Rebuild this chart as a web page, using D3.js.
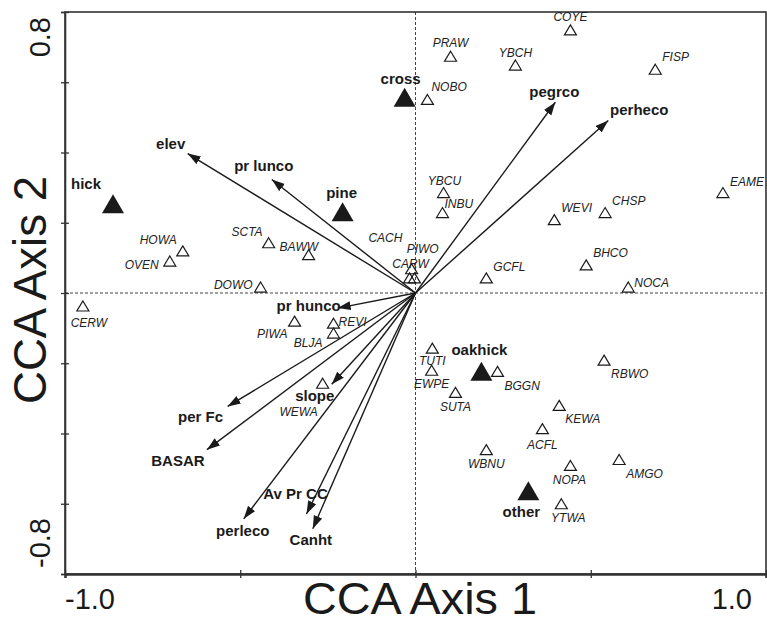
<!DOCTYPE html>
<html>
<head>
<meta charset="utf-8">
<script src="https://cdn.jsdelivr.net/npm/d3@7"></script>
<style>
body { margin: 0; background: #fff; }
svg { display: block; }
</style>
</head>
<body>
<svg id="chart" width="767" height="625"></svg>
<script>

var xTicks = [-1, -0.5, 0, 0.5, 1];
var yTicks = [-0.8, -0.6, -0.4, -0.2, 0, 0.2, 0.4, 0.6, 0.8];

// species scores (open triangles)
var species = [
	{name: "COYE", x: 0.442, y: 0.749},
	{name: "PRAW", x: 0.100, y: 0.674},
	{name: "YBCH", x: 0.285, y: 0.649},
	{name: "FISP", x: 0.684, y: 0.637},
	{name: "NOBO", x: 0.034, y: 0.551},
	{name: "YBCU", x: 0.080, y: 0.286},
	{name: "INBU", x: 0.077, y: 0.229},
	{name: "WEVI", x: 0.396, y: 0.209},
	{name: "CHSP", x: 0.541, y: 0.229},
	{name: "EAME", x: 0.877, y: 0.286},
	{name: "GCFL", x: 0.202, y: 0.043},
	{name: "BHCO", x: 0.487, y: 0.080},
	{name: "NOCA", x: 0.607, y: 0.017},
	{name: "PIWO", x: -0.011, y: 0.069},
	{name: "CARW", x: -0.017, y: 0.043},
	{name: "CACH", x: -0.003, y: 0.043},
	{name: "SCTA", x: -0.419, y: 0.143},
	{name: "BAWW", x: -0.305, y: 0.109},
	{name: "HOWA", x: -0.664, y: 0.120},
	{name: "OVEN", x: -0.701, y: 0.091},
	{name: "DOWO", x: -0.442, y: 0.017},
	{name: "CERW", x: -0.949, y: -0.037},
	{name: "PIWA", x: -0.345, y: -0.080},
	{name: "REVI", x: -0.234, y: -0.086},
	{name: "BLJA", x: -0.234, y: -0.114},
	{name: "WEWA", x: -0.265, y: -0.257},
	{name: "TUTI", x: 0.048, y: -0.157},
	{name: "EWPE", x: 0.046, y: -0.220},
	{name: "BGGN", x: 0.234, y: -0.223},
	{name: "SUTA", x: 0.114, y: -0.283},
	{name: "RBWO", x: 0.538, y: -0.191},
	{name: "KEWA", x: 0.410, y: -0.320},
	{name: "ACFL", x: 0.362, y: -0.386},
	{name: "WBNU", x: 0.202, y: -0.446},
	{name: "NOPA", x: 0.442, y: -0.491},
	{name: "AMGO", x: 0.581, y: -0.474},
	{name: "YTWA", x: 0.416, y: -0.600}
];

// forest type centroids (filled triangles)
var groups = [
	{name: "hick", x: -0.863, y: 0.254},
	{name: "pine", x: -0.208, y: 0.231},
	{name: "cross", x: -0.031, y: 0.557},
	{name: "oakhick", x: 0.188, y: -0.223},
	{name: "other", x: 0.322, y: -0.563}
];

// environmental variables (biplot arrows)
var envVars = [
	{name: "elev", x: -0.650, y: 0.397},
	{name: "pr lunco", x: -0.410, y: 0.323},
	{name: "pegrco", x: 0.399, y: 0.543},
	{name: "perheco", x: 0.550, y: 0.491},
	{name: "pr hunco", x: -0.222, y: -0.043},
	{name: "slope", x: -0.239, y: -0.260},
	{name: "per Fc", x: -0.536, y: -0.323},
	{name: "BASAR", x: -0.595, y: -0.446},
	{name: "perleco", x: -0.490, y: -0.643},
	{name: "Av Pr CC", x: -0.311, y: -0.629},
	{name: "Canht", x: -0.293, y: -0.671}
];

// label placement: [anchor, dx, dy] in px from the mark to the text centre
var speciesLabel = {
	COYE: ["m", 0, -13], PRAW: ["m", 0, -13], YBCH: ["m", 0, -12], FISP: ["s", 7, -12],
	NOBO: ["s", 4, -12], YBCU: ["m", 1, -12], INBU: ["s", 2, -9], WEVI: ["s", 7, -12],
	CHSP: ["s", 7, -12], EAME: ["s", 7, -11], GCFL: ["s", 7, -11], BHCO: ["s", 7, -12],
	NOCA: ["s", 6, -4], PIWO: ["s", -5, -20], CARW: ["m", 1, -14], CACH: ["e", -12, -40],
	SCTA: ["e", -6, -11], BAWW: ["s", -29, -8], HOWA: ["e", -6, -11], OVEN: ["e", -11, 4],
	DOWO: ["e", -8, -2], CERW: ["m", 6, 17], PIWA: ["e", -7, 13], REVI: ["s", 5, -1],
	BLJA: ["e", -11, 10], WEWA: ["m", -24, 29], TUTI: ["m", 0, 13], EWPE: ["m", 0, 14],
	BGGN: ["s", 7, 15], SUTA: ["m", 0, 15], RBWO: ["s", 7, 14], KEWA: ["s", 6, 14],
	ACFL: ["m", 0, 16], WBNU: ["m", 0, 14], NOPA: ["m", -1, 15], AMGO: ["s", 7, 15],
	YTWA: ["m", 7, 14]
};
var groupLabel = {
	hick: [-27, -20], pine: [-1, -19], cross: [-4, -18], oakhick: [-2, -21], other: [-7, 21]
};
var envLabel = {
	"elev": [-17, -10], "pr lunco": [-8, -14], "pegrco": [-1, -10], "perheco": [31, -11],
	"pr hunco": [-29, -2], "slope": [-17, 12], "per Fc": [-27, 11], "BASAR": [-29, 11],
	"perleco": [-1, 12], "Av Pr CC": [-11, -20], "Canht": [-2, 11]
};

var anchors = {s: "start", m: "middle", e: "end"};
var font = "'Liberation Sans', Arial, Helvetica, sans-serif";
var ink = "#1a1a1a";

var svg = d3.select("#chart");

var x = d3.scaleLinear().domain([-1, 1]).range([65, 766]);
var y = d3.scaleLinear().domain([-0.8, 0.8]).range([574, 12]);

// zero lines
svg.append("line")
	.attr("x1", x(0)).attr("x2", x(0))
	.attr("y1", y(0.8)).attr("y2", y(-0.8))
	.attr("stroke", "#444").attr("stroke-width", 1).attr("stroke-dasharray", "3,2");
svg.append("line")
	.attr("x1", x(-1)).attr("x2", x(1))
	.attr("y1", y(0)).attr("y2", y(0))
	.attr("stroke", "#444").attr("stroke-width", 1).attr("stroke-dasharray", "3,2");

// frame
svg.append("rect")
	.attr("x", x(-1)).attr("y", y(0.8))
	.attr("width", x(1) - x(-1)).attr("height", y(-0.8) - y(0.8))
	.attr("fill", "none").attr("stroke", "#333").attr("stroke-width", 1.6);

// axes (ticks only, crossing the frame)
var gx = svg.append("g")
	.attr("transform", "translate(0," + y(-0.8) + ")")
	.call(d3.axisBottom(x).tickValues(xTicks).tickSize(4).tickFormat(""));
var gy = svg.append("g")
	.attr("transform", "translate(" + x(-1) + ",0)")
	.call(d3.axisLeft(y).tickValues(yTicks).tickSize(4).tickFormat(""));
gx.select(".domain").attr("stroke", "#333").attr("stroke-width", 2.5);
gy.select(".domain").attr("stroke", "#333").attr("stroke-width", 1.6);
gx.selectAll(".tick line").attr("y1", -4).attr("y2", 4).attr("stroke", "#333").attr("stroke-width", 1.3);
gy.selectAll(".tick line").attr("x1", -4).attr("x2", 4).attr("stroke", "#333").attr("stroke-width", 1.3);

// end tick labels
svg.append("text").attr("x", x(-1)).attr("y", 609)
	.attr("font-family", font).attr("font-size", 29).attr("fill", ink)
	.text("-1.0");
svg.append("text").attr("x", 752).attr("y", 609).attr("text-anchor", "end")
	.attr("font-family", font).attr("font-size", 29).attr("fill", ink)
	.text("1.0");
svg.append("text").attr("transform", "translate(50,17) rotate(-90)")
	.attr("text-anchor", "end")
	.attr("font-family", font).attr("font-size", 29).attr("fill", ink)
	.text("0.8");
svg.append("text").attr("transform", "translate(50,568) rotate(-90)")
	.attr("text-anchor", "start")
	.attr("font-family", font).attr("font-size", 29).attr("fill", ink)
	.text("-0.8");

// axis titles
svg.append("text").attr("x", 420).attr("y", 614).attr("text-anchor", "middle")
	.attr("font-family", font).attr("font-size", 45).attr("fill", ink)
	.attr("textLength", 234).attr("lengthAdjust", "spacingAndGlyphs")
	.text("CCA Axis 1");
svg.append("text").attr("transform", "translate(46,290) rotate(-90)")
	.attr("text-anchor", "middle")
	.attr("font-family", font).attr("font-size", 47).attr("fill", ink)
	.attr("textLength", 228).attr("lengthAdjust", "spacingAndGlyphs")
	.text("CCA Axis 2");

// arrowhead
svg.append("defs").append("marker")
	.attr("id", "head")
	.attr("markerUnits", "userSpaceOnUse")
	.attr("markerWidth", 14).attr("markerHeight", 10)
	.attr("refX", 13).attr("refY", 4.5)
	.attr("orient", "auto")
	.append("path")
	.attr("d", "M0,0 L13,4.5 L0,9 Z")
	.attr("fill", ink);

function tri(w, h) {
	return "M0," + (-h / 2) + " L" + (w / 2) + "," + (h / 2) + " L" + (-w / 2) + "," + (h / 2) + " Z";
}

// env arrows
svg.append("g").selectAll("line")
	.data(envVars)
	.enter()
	.append("line")
	.attr("x1", x(0)).attr("y1", y(0))
	.attr("x2", function(d) {return x(d.x);})
	.attr("y2", function(d) {return y(d.y);})
	.attr("stroke", ink).attr("stroke-width", 1.4)
	.attr("marker-end", "url(#head)");

svg.append("g").selectAll("text")
	.data(envVars)
	.enter()
	.append("text")
	.attr("x", function(d) {return x(d.x) + envLabel[d.name][0];})
	.attr("y", function(d) {return y(d.y) + envLabel[d.name][1] + 5;})
	.attr("text-anchor", "middle")
	.attr("font-family", font).attr("font-size", 15).attr("font-weight", "bold")
	.attr("fill", ink)
	.text(function(d) {return d.name;});

// species
svg.append("g").selectAll("path")
	.data(species)
	.enter()
	.append("path")
	.attr("transform", function(d) {return "translate(" + x(d.x) + "," + y(d.y) + ")";})
	.attr("d", tri(12, 10))
	.attr("fill", "none").attr("stroke", ink).attr("stroke-width", 1.2);

svg.append("g").selectAll("text")
	.data(species)
	.enter()
	.append("text")
	.attr("x", function(d) {return x(d.x) + speciesLabel[d.name][1];})
	.attr("y", function(d) {return y(d.y) + speciesLabel[d.name][2] + 4;})
	.attr("text-anchor", function(d) {return anchors[speciesLabel[d.name][0]];})
	.attr("font-family", font).attr("font-size", 12).attr("font-style", "italic")
	.attr("fill", "#222")
	.text(function(d) {return d.name;});

// groups
svg.append("g").selectAll("path")
	.data(groups)
	.enter()
	.append("path")
	.attr("transform", function(d) {return "translate(" + x(d.x) + "," + y(d.y) + ")";})
	.attr("d", tri(22, 19))
	.attr("fill", ink);

svg.append("g").selectAll("text")
	.data(groups)
	.enter()
	.append("text")
	.attr("x", function(d) {return x(d.x) + groupLabel[d.name][0];})
	.attr("y", function(d) {return y(d.y) + groupLabel[d.name][1] + 5;})
	.attr("text-anchor", "middle")
	.attr("font-family", font).attr("font-size", 15).attr("font-weight", "bold")
	.attr("fill", ink)
	.text(function(d) {return d.name;});

</script>
</body>
</html>
